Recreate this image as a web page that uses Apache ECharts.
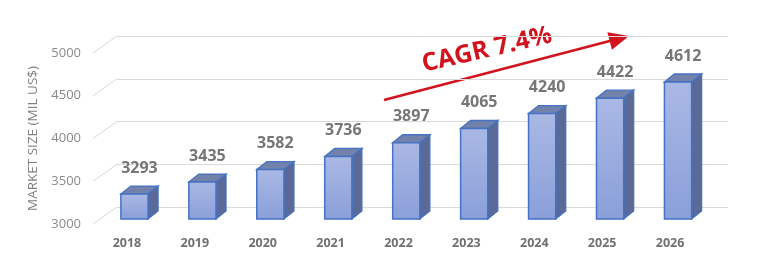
<!DOCTYPE html>
<html>
<head>
<meta charset="utf-8">
<script src="https://cdn.jsdelivr.net/npm/echarts@6/dist/echarts.min.js"></script>
<style>
html,body{margin:0;padding:0;background:#fff;}
#c{width:767px;height:272px;}
</style>
</head>
<body>
<div id="c"></div>
<script>
// ---- data ----
var years = ['2018','2019','2020','2021','2022','2023','2024','2025','2026'];
var marketSize = [3293, 3435, 3582, 3736, 3897, 4065, 4240, 4422, 4612];
var yTicks = [3000, 3500, 4000, 4500, 5000];
var yMin = 3000, yMax = 5000, yStep = 500;
var axisTitle = 'MARKET SIZE (MIL US$)';
var cagrText = 'CAGR 7.4%';

var FONT = '"Open Sans", "Liberation Sans", sans-serif';
var chart = echarts.init(document.getElementById('c'), null, {renderer: 'canvas'});

var barData = marketSize.map(function (v, i) { return [i, v]; });
var tickData = yTicks.map(function (v) { return [0, v]; });

function renderBar(params, api) {
  var i = api.value(0), v = api.value(1);
  var top = api.coord([i, v]);
  var base = api.coord([i, yMin]);
  var w = api.size([1, 0])[0] * 0.4;
  var x0 = top[0] - w / 2, x1 = top[0] + w / 2;
  var dx = 10, dy = 8;
  var stroke = '#4472c4';
  return {
    type: 'group',
    children: [
      {
        type: 'polygon',
        shape: {points: [[x1, top[1]], [x1 + dx, top[1] - dy], [x1 + dx, base[1] - dy], [x1, base[1]]]},
        style: {fill: '#5b6997', stroke: stroke, lineWidth: 1.3}
      },
      {
        type: 'polygon',
        shape: {points: [[x0, top[1]], [x0 + dx, top[1] - dy], [x1 + dx, top[1] - dy], [x1, top[1]]]},
        style: {fill: '#7382ab', stroke: stroke, lineWidth: 1.3}
      },
      {
        type: 'rect',
        shape: {x: x0, y: top[1], width: w, height: base[1] - top[1]},
        style: {
          fill: new echarts.graphic.LinearGradient(0, 0, 0, 1, [
            {offset: 0, color: '#aab8e4'},
            {offset: 1, color: '#8a9fd9'}
          ]),
          stroke: stroke, lineWidth: 1.5
        }
      },
      {
        type: 'text',
        style: {
          x: (x0 + x1 + dx) / 2, y: top[1] - 26,
          text: String(v), align: 'center', verticalAlign: 'middle',
          fill: '#767676', font: 'bold 16px ' + FONT
        }
      }
    ]
  };
}

function renderDiag(params, api) {
  var v = api.value(1);
  var p = api.coord([0, v]);
  var left = p[0] - api.size([1, 0])[0] / 2;
  return {
    type: 'line',
    shape: {x1: left, y1: p[1], x2: left - 24, y2: p[1] + 17},
    style: {stroke: '#d9d9d9', lineWidth: 1}
  };
}

// arrow geometry (annotation)
var aStart = [384, 100], aTip = [629, 36];
var ang = Math.atan2(aTip[1] - aStart[1], aTip[0] - aStart[0]);
var hl = 20, hw = 9;
var ux = Math.cos(ang), uy = Math.sin(ang);
var bx = aTip[0] - ux * hl, by = aTip[1] - uy * hl;
var head = [[aTip[0], aTip[1]], [bx - uy * hw, by + ux * hw], [bx + uy * hw, by - ux * hw]];

var option = {
  animation: false,
  backgroundColor: '#ffffff',
  grid: [
    {left: 117, right: 39, top: 36, bottom: 65},
    {left: 93, right: 63, top: 53, bottom: 48},
    {left: 100.5, right: 55, top: 49, bottom: 53}
  ],
  xAxis: [
    {gridIndex: 0, type: 'category', data: years, show: false},
    {gridIndex: 1, type: 'category', data: years,
      axisLine: {show: false}, axisTick: {show: false},
      axisLabel: {color: '#707070', fontWeight: 'bold', fontSize: 12.5, fontFamily: FONT, margin: 13}},
    {gridIndex: 2, type: 'category', data: years, show: false}
  ],
  yAxis: [
    {gridIndex: 0, type: 'value', min: yMin, max: yMax, interval: yStep,
      axisLine: {show: false}, axisTick: {show: false}, axisLabel: {show: false},
      splitLine: {show: true, lineStyle: {color: '#d9d9d9', width: 1}}},
    {gridIndex: 1, type: 'value', min: yMin, max: yMax, interval: yStep,
      axisLine: {show: false}, axisTick: {show: false}, splitLine: {show: false},
      axisLabel: {color: '#8a8a8a', fontSize: 13, fontFamily: FONT, margin: 12,
        formatter: function (v) { return String(v); }},
      name: axisTitle, nameLocation: 'middle', nameRotate: 90, nameGap: 48,
      nameTextStyle: {color: '#7f7f7f', fontSize: 13.5, fontFamily: FONT}},
    {gridIndex: 2, type: 'value', min: yMin, max: yMax, interval: yStep, show: false}
  ],
  series: [
    {type: 'custom', xAxisIndex: 0, yAxisIndex: 0, data: tickData, renderItem: renderDiag, silent: true},
    {type: 'custom', xAxisIndex: 2, yAxisIndex: 2, data: barData, renderItem: renderBar, silent: true}
  ],
  graphic: [
    {type: 'line', shape: {x1: aStart[0], y1: aStart[1], x2: bx + ux * 2, y2: by + uy * 2},
      style: {stroke: '#d2131d', lineWidth: 2.5}},
    {type: 'polygon', shape: {points: head}, style: {fill: '#d2131d'}},
    {type: 'text', x: 487, y: 50, rotation: 13 * Math.PI / 180,
      style: {text: cagrText, align: 'center', verticalAlign: 'middle',
        fill: '#d2131d', font: 'bold 25px ' + FONT}}
  ]
};
chart.setOption(option);
</script>
</body>
</html>
